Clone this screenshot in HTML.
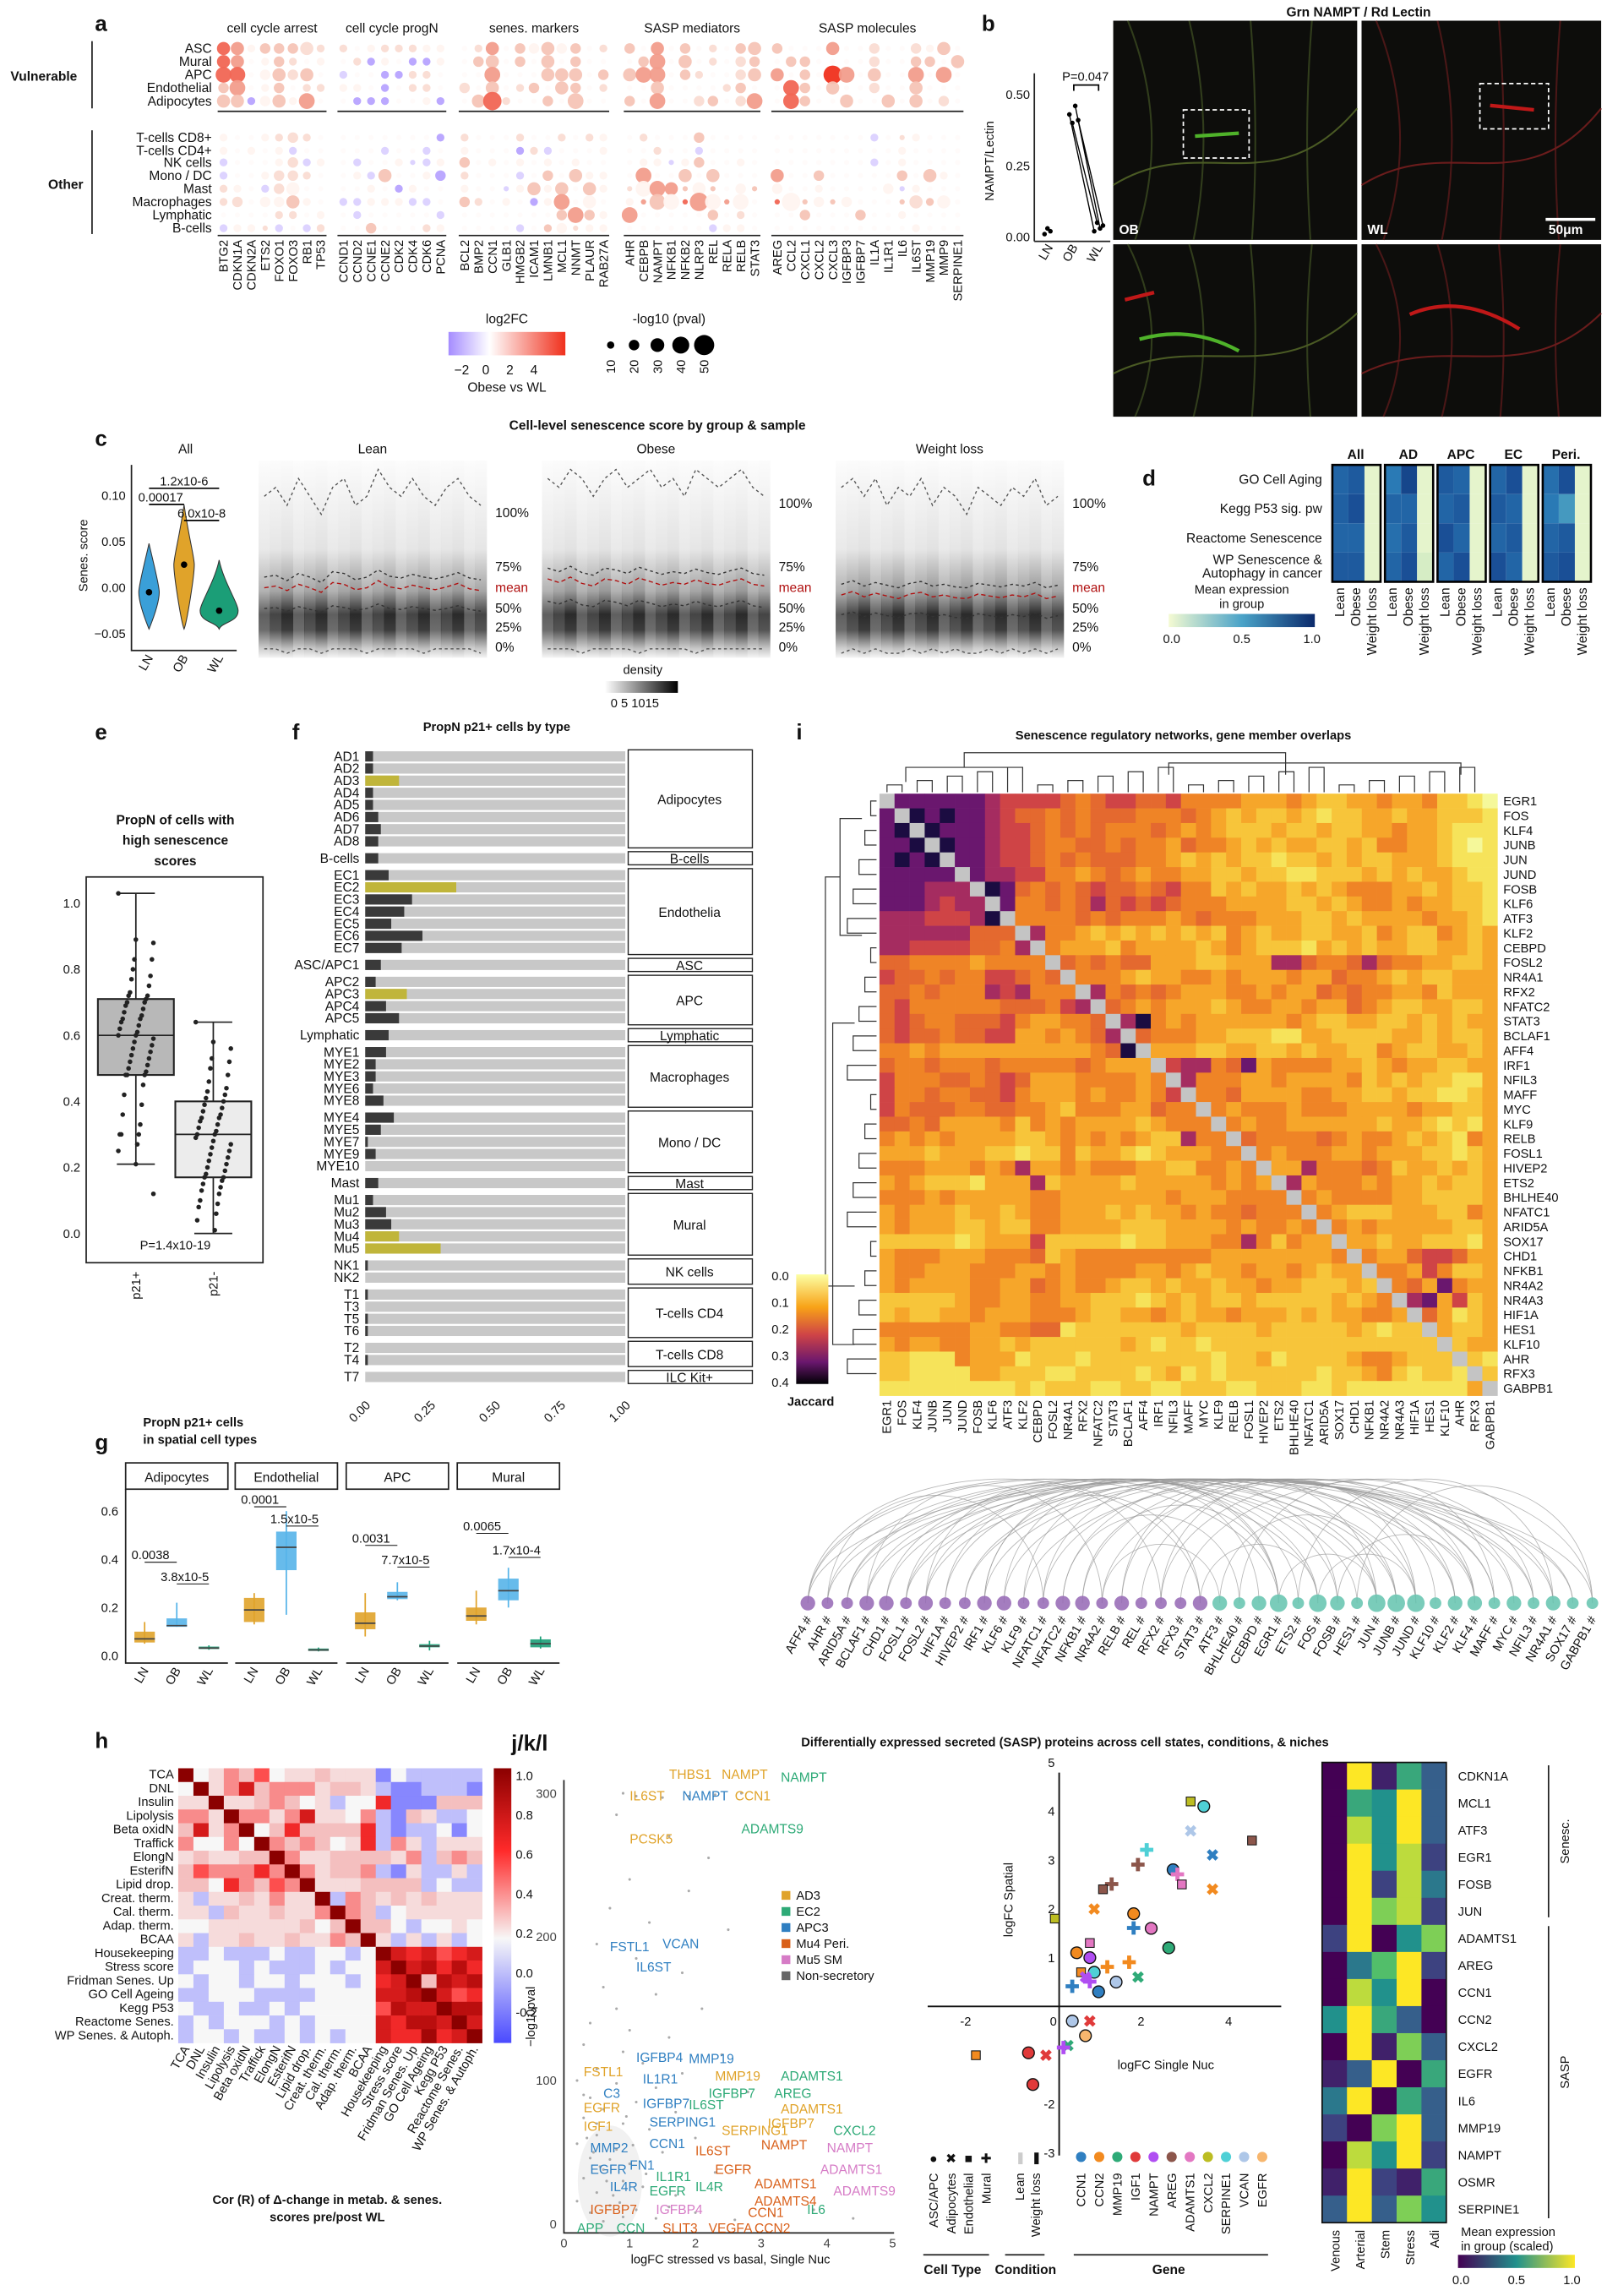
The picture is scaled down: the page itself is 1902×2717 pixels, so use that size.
<!DOCTYPE html>
<html><head><meta charset="utf-8"><style>
html,body{margin:0;padding:0;background:#fff}
svg{display:block}
text{font-family:"Liberation Sans",sans-serif}
</style></head><body>
<svg id="fig" xmlns="http://www.w3.org/2000/svg" width="1902" height="2717" viewBox="0 0 1100 1571">
<defs>
<linearGradient id="lfc" x1="0" x2="1" y1="0" y2="0"><stop offset="0" stop-color="#a58cff"/><stop offset="0.35" stop-color="#ffffff"/><stop offset="1" stop-color="#f0301c"/></linearGradient>
<linearGradient id="dens" x1="0" x2="0" y1="0" y2="1"><stop offset="0" stop-color="#fbfbfb"/><stop offset="0.45" stop-color="#e2e2e2"/><stop offset="0.66" stop-color="#9a9a9a"/><stop offset="0.78" stop-color="#2a2a2a"/><stop offset="0.86" stop-color="#3c3c3c"/><stop offset="0.95" stop-color="#bbbbbb"/><stop offset="1" stop-color="#f2f2f2"/></linearGradient>
<linearGradient id="dleg" x1="0" x2="1"><stop offset="0" stop-color="#fff"/><stop offset="1" stop-color="#000"/></linearGradient>
<linearGradient id="dblue" x1="0" x2="1"><stop offset="0" stop-color="#f4fad2"/><stop offset="0.5" stop-color="#4aa3c8"/><stop offset="1" stop-color="#0b2a6b"/></linearGradient>
<linearGradient id="inf" x1="0" x2="0" y1="0" y2="1"><stop offset="0" stop-color="#fcffa4"/><stop offset="0.3" stop-color="#f8a217"/><stop offset="0.55" stop-color="#cf4446"/><stop offset="0.8" stop-color="#6a176e"/><stop offset="1" stop-color="#000004"/></linearGradient>
<linearGradient id="rb" x1="0" x2="0" y1="0" y2="1"><stop offset="0" stop-color="#8b0000"/><stop offset="0.3" stop-color="#ff2a2a"/><stop offset="0.62" stop-color="#f7f7f7"/><stop offset="1" stop-color="#4a4aff"/></linearGradient>
<linearGradient id="vir" x1="0" x2="1"><stop offset="0" stop-color="#440154"/><stop offset="0.5" stop-color="#21918c"/><stop offset="1" stop-color="#fde725"/></linearGradient>
</defs>
</svg>
<script>
/* ===== DATA ===== */
const aGroups=["cell cycle arrest","cell cycle progN","senes. markers","SASP mediators","SASP molecules"];
const aGenes=[["BTG2","CDKN1A","CDKN2A","ETS2","FOXO1","FOXO3","RB1","TP53"],["CCND1","CCND2","CCNE1","CCNE2","CDK2","CDK4","CDK6","PCNA"],["BCL2","BMP2","CCN1","GLB1","HMGB2","ICAM1","LMNB1","MCL1","NNMT","PLAUR","RAB27A"],["AHR","CEBPB","NAMPT","NFKB1","NFKB2","NLRP3","REL","RELA","RELB","STAT3"],["AREG","CCL2","CXCL1","CXCL2","CXCL3","IGFBP3","IGFBP7","IL1A","IL1R1","IL6","IL6ST","MMP19","MMP9","SERPINE1"]];
const aVulnRows=["ASC","Mural","APC","Endothelial","Adipocytes"];
const aOtherRows=["T-cells CD8+","T-cells CD4+","NK cells","Mono / DC","Mast","Macrophages","Lymphatic","B-cells"];
const aFC=[
"43022211|10011100|01302020201|20302010222|00030010010203",
"43002100|01n00nn0|02202020200|02302010120|22000010022020",
"44002120|m00nn110|00300022202|23302100123|02053020030303",
"23002011|000n0110|10201202201|00200001200|42020010020000",
"22n02030|0nnn000n|02410020200|20300120130|42002002020101",
"00001110|0000000n|1000100101|0010002000|00000000m0100",
"00000m00|000m00m0|0000n1m000|000100m000|00000000000000",
"m00001m0|0m000mm0|2000000000|0000m02000|00000000m00000",
"m0001110|00m2000n|1000m02020|00300202000|30020000020200",
"100m1000|0000n000|000m0202020|10332020020|00000000m00000",
"11000200|mm000mm0|21000n0300|00320430300|40202000021200",
"00001100|0m00000m|0000000232|0300000201|00020002000000",
"m001m0m1|00200010|0000m0201|00000000m0|00000000000000"];
const aSZ=[
"33122231|10111111|01302232201|20302010232|00030020021303",
"33012101|01110111|02302030200|02403010220|22000020022030",
"44023230|10011110|00400033302|34402100233|02054030040404",
"24012011|11010110|20301203201|00300001200|42030020030000",
"33123140|01110011|03510020400|20400220240|42003003030202",
"10011210|00000001|1000100101|1010002000|00000000100100",
"10101100|00010010|1000111000|1001001000|00000000001000",
"10001211|01001011|2010101010|0011012001|00000000101000",
"10012210|01130012|1000102031|10400303000|30020000020310",
"11012300|00101100|1000131303|10443030020|20010000201000",
"12022310|11111110|21010114030|10440540400|50202000031300",
"00001101|01000001|0000000242|1400000201|00020002001000",
"11101011|00200011|0000101201|10000001110|00000000001000"];
const bGroups=["LN","OB","WL"];
const bLN=[0.01,0.03,0.02];
const bOB=[0.43,0.40,0.46,0.41];
const bWL=[0.02,0.05,0.03,0.04];
const cViolin=[["LN",-0.005,0.048,"#3a9fd8"],["OB",0.025,0.09,"#e0a32a"],["WL",-0.025,0.03,"#1b9e77"]];
const cPanels=["Lean","Obese","Weight loss"];
const cP100=[[0.12,0.13,0.11,0.14,0.12,0.10,0.13,0.14,0.11,0.12,0.15,0.13,0.12,0.14,0.12,0.11,0.13,0.14,0.12,0.11],
[0.14,0.13,0.15,0.14,0.12,0.14,0.15,0.13,0.14,0.15,0.13,0.14,0.12,0.15,0.14,0.13,0.14,0.15,0.13,0.12],
[0.13,0.14,0.12,0.14,0.11,0.13,0.12,0.14,0.11,0.13,0.12,0.10,0.13,0.12,0.11,0.13,0.12,0.14,0.11,0.12]];
const cP75=[[0.030,0.032,0.026,0.034,0.030,0.024,0.036,0.034,0.027,0.030,0.038,0.031,0.029,0.033,0.030,0.028,0.031,0.035,0.029,0.027],
[0.040,0.036,0.042,0.035,0.032,0.040,0.038,0.034,0.041,0.037,0.033,0.036,0.034,0.039,0.035,0.033,0.037,0.040,0.034,0.032],
[0.022,0.026,0.020,0.024,0.021,0.018,0.023,0.025,0.020,0.022,0.019,0.018,0.023,0.021,0.019,0.022,0.020,0.024,0.018,0.021]];
const cMean=[[0.018,0.020,0.015,0.022,0.018,0.013,0.024,0.022,0.016,0.018,0.026,0.019,0.017,0.021,0.018,0.016,0.019,0.023,0.017,0.015],
[0.028,0.024,0.030,0.023,0.020,0.028,0.026,0.022,0.029,0.025,0.021,0.024,0.022,0.027,0.023,0.021,0.025,0.028,0.022,0.020],
[0.010,0.014,0.008,0.012,0.009,0.006,0.011,0.013,0.008,0.010,0.007,0.006,0.011,0.009,0.007,0.010,0.008,0.012,0.006,0.009]];
const cP25=[[-0.005,-0.004,-0.008,-0.003,-0.006,-0.009,-0.002,-0.004,-0.007,-0.005,0.000,-0.005,-0.006,-0.003,-0.005,-0.007,-0.005,-0.002,-0.006,-0.008],
[0.003,0.000,0.005,-0.001,-0.003,0.004,0.002,-0.002,0.004,0.001,-0.003,0.000,-0.002,0.003,-0.001,-0.003,0.001,0.004,-0.002,-0.004],
[-0.012,-0.009,-0.014,-0.010,-0.013,-0.015,-0.011,-0.010,-0.014,-0.012,-0.015,-0.016,-0.011,-0.013,-0.015,-0.012,-0.014,-0.010,-0.016,-0.013]];
const cP0=[[-0.05,-0.05,-0.055,-0.05,-0.05,-0.055,-0.05,-0.05,-0.05,-0.055,-0.05,-0.05,-0.05,-0.05,-0.055,-0.05,-0.05,-0.05,-0.05,-0.055],
[-0.05,-0.05,-0.05,-0.055,-0.05,-0.05,-0.05,-0.05,-0.055,-0.05,-0.05,-0.05,-0.05,-0.055,-0.05,-0.05,-0.05,-0.05,-0.05,-0.05],
[-0.055,-0.05,-0.055,-0.05,-0.055,-0.055,-0.05,-0.055,-0.05,-0.055,-0.05,-0.055,-0.055,-0.05,-0.055,-0.05,-0.055,-0.05,-0.055,-0.05]];
const dRows=["GO Cell Aging","Kegg P53 sig. pw","Reactome Senescence","WP Senescence &\nAutophagy in cancer"];
const dGroups=["All","AD","APC","EC","Peri."];
const dConds=["Lean","Obese","Weight loss"];
const dVals=[[0.7,0.75,0.05],[0.72,0.8,0.05],[0.7,0.7,0.05],[0.75,0.75,0.05],
 [0.6,0.85,0.05],[0.7,0.7,0.05],[0.65,0.75,0.05],[0.7,0.8,0.1],
 [0.75,0.7,0.05],[0.7,0.75,0.05],[0.8,0.7,0.05],[0.7,0.8,0.05],
 [0.7,0.8,0.05],[0.75,0.7,0.05],[0.7,0.75,0.05],[0.8,0.7,0.05],
 [0.65,0.8,0.05],[0.6,0.5,0.05],[0.7,0.75,0.05],[0.75,0.8,0.05]];
const eGroups=["p21+","p21-"];
const eStats=[[0.21,0.48,0.60,0.71,1.03],[0.00,0.17,0.30,0.40,0.64]];
const ePos=[1.03,0.89,0.88,0.83,0.83,0.80,0.78,0.77,0.75,0.73,0.72,0.72,0.71,0.70,0.70,0.69,0.68,0.67,0.66,0.65,0.65,0.64,0.63,0.62,0.61,0.60,0.60,0.59,0.58,0.57,0.56,0.55,0.54,0.53,0.52,0.51,0.50,0.49,0.48,0.48,0.48,0.45,0.42,0.39,0.36,0.33,0.30,0.30,0.30,0.27,0.25,0.21,0.12];
const eNeg=[0.64,0.58,0.56,0.53,0.52,0.50,0.48,0.46,0.44,0.43,0.42,0.41,0.40,0.39,0.38,0.37,0.36,0.35,0.35,0.34,0.33,0.32,0.31,0.30,0.30,0.29,0.28,0.27,0.26,0.25,0.24,0.23,0.22,0.21,0.20,0.19,0.18,0.17,0.17,0.16,0.15,0.14,0.13,0.12,0.10,0.09,0.08,0.06,0.04,0.01];
const fRows=["AD1","AD2","AD3","AD4","AD5","AD6","AD7","AD8","B-cells","EC1","EC2","EC3","EC4","EC5","EC6","EC7","ASC/APC1","APC2","APC3","APC4","APC5","Lymphatic","MYE1","MYE2","MYE3","MYE6","MYE8","MYE4","MYE5","MYE7","MYE9","MYE10","Mast","Mu1","Mu2","Mu3","Mu4","Mu5","NK1","NK2","T1","T3","T5","T6","T2","T4","T7"];
const fVal=[0.03,0.03,0.13,0.03,0.03,0.05,0.06,0.05,0.05,0.09,0.35,0.18,0.15,0.10,0.22,0.14,0.06,0.04,0.16,0.08,0.13,0.09,0.08,0.04,0.04,0.03,0.07,0.11,0.06,0.01,0.04,0.00,0.05,0.03,0.08,0.10,0.13,0.29,0.01,0.00,0.01,0.00,0.01,0.01,0.00,0.01,0.00];
const fHi=["AD3","EC2","APC3","Mu4","Mu5"];
const fTypes=[["Adipocytes",0,7],["B-cells",8,8],["Endothelia",9,15],["ASC",16,16],["APC",17,20],["Lymphatic",21,21],["Macrophages",22,26],["Mono / DC",27,31],["Mast",32,32],["Mural",33,37],["NK cells",38,39],["T-cells CD4",40,43],["T-cells CD8",44,45],["ILC Kit+",46,46]];
const fTicks=[0,0.25,0.5,0.75,1.0];
const gFacets=["Adipocytes","Endothelial","APC","Mural"];
const gStats=[[[0.05,0.055,0.07,0.10,0.14],[0.12,0.12,0.125,0.155,0.22],[0.025,0.028,0.032,0.038,0.043]],
[[0.13,0.14,0.19,0.24,0.26],[0.17,0.355,0.45,0.515,0.60],[0.018,0.02,0.024,0.03,0.034]],
[[0.08,0.11,0.135,0.18,0.26],[0.23,0.235,0.245,0.265,0.305],[0.022,0.035,0.04,0.048,0.062]],
[[0.13,0.145,0.165,0.20,0.27],[0.20,0.23,0.27,0.32,0.365],[0.03,0.035,0.05,0.068,0.08]]];
const gP=[["0.0038","3.8x10-5"],["0.0001","1.5x10-5"],["0.0031","7.7x10-5"],["0.0065","1.7x10-4"]];
const gPy=[[0.40,0.31],[0.63,0.55],[0.47,0.38],[0.52,0.42]];
const gTicks=[0,0.2,0.4,0.6];
const hLabels=["TCA","DNL","Insulin","Lipolysis","Beta oxidN","Traffick","ElongN","EsterifN","Lipid drop.","Creat. therm.","Cal. therm.","Adap. therm.","BCAA","Housekeeping","Stress score","Fridman Senes. Up","GO Cell Ageing","Kegg P53","Reactome Senes.","WP Senes. & Autoph."];
const hVals=[
"9013240112111n0mmmmm","0913623331221mnnmmmn","1191123201m005nnn222","3319331361103mn21mm0","2613902522225mnmm0n0",
"3003093232015m31m111","1211229311222213m232","2433353931223mn1mm1m","2205324391112222m0mm","1m11213119m321212111",
"11m2112113932m011111","001111112029220m0010","1m112112113291m1m1m0","mm0mmm0mm00m09656456","m000m0mmm0m0069675755",
"0m00m00m000m05692767","mm000mmmm00006679645","0mm0mm0m0000047669775","m0m000m0m00006577696","m00m0mm0m0m006558569"];
const iLabels=["EGR1","FOS","KLF4","JUNB","JUN","JUND","FOSB","KLF6","ATF3","KLF2","CEBPD","FOSL2","NR4A1","RFX2","NFATC2","STAT3","BCLAF1","AFF4","IRF1","NFIL3","MAFF","MYC","KLF9","RELB","FOSL1","HIVEP2","ETS2","BHLHE40","NFATC1","ARID5A","SOX17","CHD1","NFKB1","NR4A2","NR4A3","HIF1A","HES1","KLF10","AHR","RFX3","GABPB1"];
const iVals=[
"x8888887666654566556444433343223343342210",
"8x989887655454555444543232232122332332221",
"89x98887665454544454343222322322334332111",
"889x9887665445545443544323233223244332101",
"8989x887665454555443232322122323223332111",
"88888x87766443454344332232211222323233211",
"888777x9854545655456442323323234443323221",
"8887677x844545756565444333322323443433221",
"77766679x44445454443454443332232333343321",
"777777555x744323232323243233223324322432",
"7766665547x43332433332343222132323322332",
"55444434444x5454553332233377544575443322",
"655454466545x444323344343334335443232233",
"5545444767444x74545433344343354544334233",
"56444444555467x5434333234433433543223322",
"565445556433445x794343333334322332232323",
"5655455663343457x54443322211332222332322",
"44343333333333459x3332233223233224322332",
"544544454444454333x677458344443323433223",
"6444554565333444434x74443343333423232211",
"64454455643334344346x4453333443322322112",
"645554455443244433544x434443444333343322",
"5545333342434333323444x43443333332332121",
"43434333322343434322744x5444454344323214",
"33323332212242332123334454x4443343332212",
"444333434733434443322443443x744454233232",
"3432221333723333233333434347x44434332322",
"44434333334433333334333444444x4444332222",
"343332332344333232334344544444x222333224",
"3433322322443333222333343443434x43333322",
"22222123336222221223334474243343x2332221",
"3444333444523444444444333333334343x56653",
"34433344433434444334323343343233444x6422",
"343333443354344322323323343322232445x843",
"2222234433443322212323223222223234678x62",
"2322334333444322334323343332323344375x12",
"4444443344551222222232222322222321222x22",
"3433443323222222321221222222222222222x2",
"22111433312221222222221223122223443222x21",
"221111332221122221231212222221223421221x2",
"111111111212221122112221122211211111111x"];
const iArcNodes=["AFF4","AHR","ARID5A","BCLAF1","CHD1","FOSL1","FOSL2","HIF1A","HIVEP2","IRF1","KLF6","KLF9","NFATC1","NFATC2","NFKB1","NR4A2","RELB","REL","RFX2","RFX3","STAT3","ATF3","BHLHE40","CEBPD","EGR1","ETS2","FOS","FOSB","HES1","JUN","JUNB","JUND","KLF10","KLF2","KLF4","MAFF","MYC","NFIL3","NR4A1","SOX17","GABPB1"];
const iNodeSize=[5,4,4,5,5,4,5,4,4,5,5,4,4,5,5,4,5,4,4,4,5,5,4,5,6,4,6,5,4,6,6,6,4,5,5,4,5,4,5,4,4];
const iArcs=[[0,24],[0,26],[1,29],[2,30],[3,31],[4,34],[5,26],[6,29],[7,30],[8,33],[9,35],[10,24],[11,38],[12,27],[13,31],[14,24],[15,36],[16,29],[17,34],[18,37],[19,40],[20,26],[21,30],[0,40],[3,38],[5,39],[6,37],[8,36],[10,35],[12,34],[14,33],[16,32],[18,31],[2,28],[4,27],[7,25],[9,24],[11,23],[13,22],[15,21],[24,29],[26,31],[27,34],[1,12],[3,15],[6,18],[9,20],[22,35],[25,38],[28,40],[0,20],[5,33],[2,37],[1,39]];
const jPts=[[0.9,300],[1.1,298],[1.5,297],[1.9,298],[2.3,299],[2.7,300],[0.8,285],[1.6,270],[2.2,255],[1.0,240],[1.9,232],[0.7,220],[1.3,210],[2.5,205],[0.5,195],[1.1,185],[1.8,175],[0.6,165],[1.4,160],[0.8,150],[2.1,150],[0.4,140],[1.0,135],[1.6,130],[0.3,125],[0.9,120],[2.4,118],[1.2,112],[0.5,108],[1.8,105],[0.2,100],[0.8,98],[1.4,95],[2.8,92],[0.4,88],[1.1,85],[0.6,80],[1.7,78],[0.3,74],[0.9,70],[1.3,66],[0.5,62],[2.0,60],[0.2,56],[0.8,52],[1.5,50],[0.4,46],[1.0,42],[0.6,38],[2.3,36],[0.3,32],[0.9,30],[1.2,26],[0.5,22],[1.7,20],[0.2,16],[0.7,13],[1.1,10],[0.4,8],[0.9,5],[1.4,4],[0.6,2],[2.6,3],[3.2,6],[3.8,10],[4.4,4],[0.35,60],[0.45,50],[0.55,40],[0.65,30],[0.75,20],[0.85,15],[0.5,70],[0.7,45],[1.25,35],[1.05,55],[0.95,75],[1.6,12],[2.0,8],[0.3,90]];
const jLabels=[["THBS1",1.6,310,"#e0a32a"],["NAMPT",2.4,310,"#e0a32a"],["NAMPT",3.3,308,"#2eaa77"],["IL6ST",1.0,295,"#e0a32a"],["NAMPT",1.8,295,"#2f7fc1"],["CCN1",2.6,295,"#e0a32a"],["ADAMTS9",2.7,272,"#2eaa77"],["PCSK5",1.0,265,"#e0a32a"],["FSTL1",0.7,190,"#2f7fc1"],["VCAN",1.5,192,"#2f7fc1"],["IL6ST",1.1,176,"#2f7fc1"],["IGFBP4",1.1,113,"#2f7fc1"],["MMP19",1.9,112,"#2f7fc1"],["FSTL1",0.3,103,"#e0a32a"],["IL1R1",1.2,98,"#2f7fc1"],["MMP19",2.3,100,"#e0a32a"],["ADAMTS1",3.3,100,"#2eaa77"],["C3",0.6,88,"#2f7fc1"],["IGFBP7",2.2,88,"#2eaa77"],["AREG",3.2,88,"#2eaa77"],["EGFR",0.3,78,"#e0a32a"],["IGFBP7",1.2,81,"#2f7fc1"],["IL6ST",1.9,80,"#2eaa77"],["ADAMTS1",3.3,77,"#e0a32a"],["IGF1",0.3,65,"#e0a32a"],["SERPING1",1.3,68,"#2f7fc1"],["SERPING1",2.4,62,"#e0a32a"],["IGFBP7",3.1,67,"#e0a32a"],["CXCL2",4.1,62,"#2eaa77"],["MMP2",0.4,50,"#2f7fc1"],["CCN1",1.3,53,"#2f7fc1"],["IL6ST",2.0,48,"#d9601a"],["NAMPT",3.0,52,"#d9601a"],["NAMPT",4.0,50,"#d67cc6"],["EGFR",0.4,35,"#2f7fc1"],["FN1",1.0,38,"#2f7fc1"],["EGFR",2.3,35,"#d9601a"],["ADAMTS1",3.9,35,"#d67cc6"],["IL4R",0.7,23,"#2f7fc1"],["IL1R1",1.4,30,"#2eaa77"],["EGFR",1.3,20,"#2eaa77"],["IL4R",2.0,23,"#2eaa77"],["ADAMTS1",2.9,25,"#d9601a"],["ADAMTS9",4.1,20,"#d67cc6"],["ADAMTS4",2.9,13,"#d9601a"],["IL6",3.7,7,"#2eaa77"],["IGFBP7",0.4,7,"#d9601a"],["IGFBP4",1.4,7,"#d67cc6"],["CCN1",2.8,5,"#d9601a"],["APP",0.2,-6,"#2eaa77"],["CCN",0.8,-6,"#2eaa77"],["SLIT3",1.5,-6,"#d9601a"],["VEGFA",2.2,-6,"#d9601a"],["CCN2",2.9,-6,"#d9601a"]];
const jLegend=[["AD3","#e0a32a"],["EC2","#2eaa77"],["APC3","#2f7fc1"],["Mu4 Peri.","#d9601a"],["Mu5 SM","#d67cc6"],["Non-secretory","#666"]];
const kGenes=["CCN1","CCN2","MMP19","IGF1","NAMPT","AREG","ADAMTS1","CXCL2","SERPINE1","VCAN","EGFR"];
const kCols=["#2f7fc1","#f28a1f","#2eaa77","#e03a3a","#b04ef2","#8c564b","#e377c2","#bcbd22","#4fd0d6","#aec7e8","#f7b66e"];
const kPts=[[3.3,4.1,0,8],[3.0,4.2,2,7],[3.0,3.6,1,9],[4.4,3.4,2,5],[2.0,3.2,3,8],[3.5,3.1,1,0],[1.8,2.9,3,5],[2.6,2.8,0,0],[2.7,2.7,3,6],[2.8,2.5,2,6],[1.2,2.5,3,5],[1.0,2.4,2,5],[3.5,2.4,1,1],[0.8,2.0,1,1],[1.7,1.9,0,1],[-0.1,1.8,2,7],[1.7,1.6,3,0],[2.1,1.6,0,6],[2.5,1.2,0,2],[0.4,1.1,0,1],[0.7,1.3,2,6],[0.7,1.0,0,4],[1.6,0.9,3,1],[1.1,0.8,3,1],[0.5,0.7,2,1],[0.8,0.7,0,8],[0.6,0.6,1,4],[1.3,0.5,0,9],[1.8,0.6,1,2],[0.7,0.5,3,4],[0.3,0.4,3,0],[0.9,0.3,0,0],[0.3,-0.3,0,9],[0.7,-0.3,1,3],[0.6,-0.6,0,10],[0.2,-0.8,1,2],[0.1,-0.85,3,4],[-0.7,-0.95,0,3],[-0.3,-1.0,1,3],[-1.9,-1.0,2,1],[-0.6,-1.6,0,3]];
const lRows=["CDKN1A","MCL1","ATF3","EGR1","FOSB","JUN","ADAMTS1","AREG","CCN1","CCN2","CXCL2","EGFR","IL6","MMP19","NAMPT","OSMR","SERPINE1"];
const lCols=["Venous","Arterial","Stem","Stress","Adi"];
const lVals=[[0.0,1.0,0.1,0.6,0.3],[0.0,0.6,0.5,1.0,0.3],[0.0,0.9,0.5,1.0,0.3],[0.0,1.0,0.5,0.9,0.2],[0.0,1.0,0.2,0.9,0.4],[0.0,1.0,0.8,0.9,0.2],[0.2,1.0,0.0,0.5,0.8],[0.0,0.4,0.7,1.0,0.2],[0.0,0.9,0.5,1.0,0.0],[0.5,1.0,0.6,0.3,0.0],[0.0,1.0,0.1,0.8,0.3],[0.1,0.3,1.0,0.0,0.6],[0.4,1.0,0.0,0.6,0.3],[0.2,0.0,0.8,1.0,0.3],[0.0,0.9,0.5,1.0,0.2],[0.1,1.0,0.2,0.1,0.6],[0.3,1.0,0.3,0.8,0.5]];

/* ===== helpers ===== */
const NS="http://www.w3.org/2000/svg";
const svg=document.getElementById("fig");
function mk(tag,attrs,parent){const e=document.createElementNS(NS,tag);for(const k in attrs)e.setAttribute(k,attrs[k]);(parent||svg).appendChild(e);return e;}
function tx(x,y,s,size,extra){const e=mk("text",Object.assign({x:x,y:y,"font-size":size||7,fill:"#111"},extra||{}));e.textContent=s;return e;}
function lerp(a,b,t){return a+(b-a)*t;}
function hex(c){return [parseInt(c.substr(1,2),16),parseInt(c.substr(3,2),16),parseInt(c.substr(5,2),16)];}
function ramp(stops,t){t=Math.max(0,Math.min(1,t));const n=stops.length-1;const i=Math.min(n-1,Math.floor(t*n));const f=t*n-i;const a=hex(stops[i]),b=hex(stops[i+1]);return "rgb("+[0,1,2].map(k=>Math.round(lerp(a[k],b[k],f))).join(",")+")";}
const INF=["#f5f89a","#f6e35a","#f7c53a","#f6a62a","#ef8426","#e4692f","#cf4446","#a52c60","#6a176e","#1b0c41","#000004"];
const VIR=["#440154","#3b528b","#21918c","#5ec962","#fde725"];
const BLU=["#f4fad2","#b8e0b8","#5fb8c8","#2a7ab5","#1a4f96","#0b2a6b"];
function letter(x,y,s){const t=tx(x,y,s,15,{"font-weight":"bold"});}

/* ===== Panel a ===== */
letter(65,21,"a");
const aX0=[153,235,318,431,532], aStep=9.5;
const aVy=[33,42,51,60,69], aOy=[94,103,111,120,129,138,147,156];
const aAllRows=aVulnRows.concat(aOtherRows), aAllY=aVy.concat(aOy);
aGroups.forEach((g,gi)=>{
  const h=tx(aX0[gi]+(aGenes[gi].length-1)*aStep/2,22,g,9,{"text-anchor":"middle"});
  
  
  const x1=aX0[gi]-4,x2=aX0[gi]+(aGenes[gi].length-1)*aStep+4;
  [76,161].forEach(yy=>{const ax=mk("line",{x1:x1,x2:x2,y1:yy,y2:yy,stroke:"#222","stroke-width":1});
    
    });
  aGenes[gi].forEach((gn,k)=>{const t=tx(0,0,gn,8.5,{"text-anchor":"end",transform:"translate("+(aX0[gi]+k*aStep+3)+",164) rotate(-90)"});
    
    });
});
aAllRows.forEach((r,ri)=>{
  const t=tx(145,aAllY[ri]+3,r,9,{"text-anchor":"end"});
  
  
  const fc=aFC[ri].replace(/\|/g,""), sz=aSZ[ri].replace(/\|/g,"");
  let col=0;
  aGroups.forEach((g,gi)=>{aGenes[gi].forEach((gn,k)=>{
    const ch=fc[col]||"0", s=parseInt(sz[col]||"0");col++;
    let v=ch==="n"?-2:ch==="m"?-1:parseInt(ch);
    const color=v<0?ramp(["#ffffff","#a58cff"],-v/2.5):ramp(["#fff4f0","#f2b8a8","#f0301c"],v/5);
    const c=mk("circle",{cx:aX0[gi]+k*aStep,cy:aAllY[ri],r:1.8+s*0.9,fill:color,opacity:v===0&&s===0?0.35:0.95});
    
    
  });});
});
{const t=tx(30,55,"Vulnerable",9,{"font-weight":"bold","text-anchor":"middle"});
const t2=tx(45,129,"Other",9,{"font-weight":"bold","text-anchor":"middle"});
const l1=mk("line",{x1:63,x2:63,y1:28,y2:74,stroke:"#222"});
const l2=mk("line",{x1:63,x2:63,y1:89,y2:160,stroke:"#222"});
const cb=mk("rect",{x:307,y:227,width:80,height:16,fill:"url(#lfc)"});
const ct=tx(347,221,"log2FC",9,{"text-anchor":"middle"});
["−2","0","2","4"].forEach((s,i)=>{const t=tx(316+i*16.5,256,s,9,{"text-anchor":"middle"});});
const ov=tx(347,268,"Obese vs WL",9,{"text-anchor":"middle"});
const pt=tx(458,221,"-log10 (pval)",9,{"text-anchor":"middle"});
["10","20","30","40","50"].forEach((s,i)=>{const c=mk("circle",{cx:418+i*16,cy:236,r:2.5+i*1.1,fill:"#000"});
const t=tx(0,0,s,8.5,{"text-anchor":"end",transform:"translate("+(421+i*16)+",246) rotate(-90)"});});}

/* ===== Panel b ===== */
letter(672,21,"b");
{const t=tx(930,11,"Grn NAMPT  /  Rd Lectin",9,{"font-weight":"bold","text-anchor":"middle"});
const imgs=[[762,14,167,150,"OB"],[932,14,164,150,"WL"],[762,167,167,118,""],[932,167,164,118,""]];
imgs.forEach((m,i)=>{const r=mk("rect",{x:m[0],y:m[1],width:m[2],height:m[3],fill:"#0d0d0b"});
 for(let k=0;k<4;k++){const p=mk("path",{d:"M"+(m[0]+10+k*42)+","+m[1]+" Q"+(m[0]+40+k*30)+","+(m[1]+m[3]*0.5)+" "+(m[0]+15+k*40)+","+(m[1]+m[3]),stroke:i%2?"#5a1a1a":"#3b4a20","stroke-width":1.2,fill:"none",opacity:0.8});}
 const p2=mk("path",{d:"M"+m[0]+","+(m[1]+m[3]*0.75)+" C"+(m[0]+60)+","+(m[1]+m[3]*0.5)+" "+(m[0]+110)+","+(m[1]+m[3]*0.85)+" "+(m[0]+m[2])+","+(m[1]+m[3]*0.4),stroke:i%2?"#6a1c1c":"#4a5a24","stroke-width":1.2,fill:"none"});
 if(m[4]){const t=tx(m[0]+4,m[1]+m[3]-4,m[4],9,{fill:"#fff","font-weight":"bold"});}});
const s1=mk("rect",{x:810,y:75,width:45,height:33,fill:"none",stroke:"#fff","stroke-dasharray":"3,2"});
const s2=mk("rect",{x:1013,y:57,width:47,height:31,fill:"none",stroke:"#fff","stroke-dasharray":"3,2"});
const gr=mk("path",{d:"M818,93 L848,91 M780,232 Q815,222 848,240",stroke:"#4fb22a","stroke-width":2.5,fill:"none"});
const rd=mk("path",{d:"M1020,72 L1050,75 M965,215 Q1000,200 1040,225 M770,205 L790,200",stroke:"#c01818","stroke-width":2.5,fill:"none"});
const sb=tx(1060,160,"50μm",9,{fill:"#fff","font-weight":"bold"});
const sbl=mk("line",{x1:1058,x2:1092,y1:150,y2:150,stroke:"#fff","stroke-width":2});
const by=v=>162-v*195, bx=[718,735,752];
const ax=mk("path",{d:"M708,50 L708,165 M708,165 L760,165",stroke:"#222",fill:"none"});
[0,0.25,0.5].forEach(v=>{const t=tx(705,by(v)+3,v.toFixed(2),8.5,{"text-anchor":"end"});});
const yt=tx(0,0,"NAMPT/Lectin",8.5,{"text-anchor":"middle",transform:"translate(680,110) rotate(-90)"});
bGroups.forEach((g,i)=>{const t=tx(0,0,g,8.5,{"text-anchor":"end",transform:"translate("+(bx[i]+3)+",169) rotate(-60)"});});
[bLN,bOB,bWL].forEach((arr,i)=>arr.forEach((v,k)=>{const c=mk("circle",{cx:bx[i]+(k-1.5)*2,cy:by(v),r:1.6,fill:"#000"});}));
bOB.forEach((v,k)=>{const l=mk("line",{x1:bx[1]+(k-1.5)*2,y1:by(v),x2:bx[2]+(k-1.5)*2,y2:by(bWL[k]),stroke:"#000","stroke-width":0.8});});
const br=mk("path",{d:"M735,62 L735,58 L752,58 L752,62",stroke:"#000",fill:"none"});
const pv=tx(743,55,"P=0.047",8.5,{"text-anchor":"middle"});}

/* ===== Panel c ===== */
letter(65,305,"c");
{const t=tx(450,294,"Cell-level senescence score by group & sample",9,{"font-weight":"bold","text-anchor":"middle"});
const t2=tx(127,310,"All",9,{"text-anchor":"middle"});
const vy=v=>402-v*630, vx=[102,126,150];
const ax=mk("path",{d:"M90,318 L90,445 L162,445",stroke:"#222",fill:"none"});
[0.10,0.05,0.00,-0.05].forEach(v=>{const tt=tx(86,vy(v)+3,v.toFixed(2).replace("-","−"),8.5,{"text-anchor":"end"});});
const yt=tx(0,0,"Senes. score",8.5,{"text-anchor":"middle",transform:"translate(60,380) rotate(-90)"});
cViolin.forEach((v,i)=>{const top=vy(v[2]),mid=vy(v[1]),bot=vy(-0.045);const w=i===2?13:7;
 const p=mk("path",{d:"M"+vx[i]+","+top+" C"+(vx[i]+3)+","+(mid-20)+" "+(vx[i]+w)+","+(mid-5)+" "+(vx[i]+w)+","+mid+" C"+(vx[i]+w)+","+(mid+8)+" "+(vx[i]+2)+","+(bot-5)+" "+vx[i]+","+bot+" C"+(vx[i]-2)+","+(bot-5)+" "+(vx[i]-w)+","+(mid+8)+" "+(vx[i]-w)+","+mid+" C"+(vx[i]-w)+","+(mid-5)+" "+(vx[i]-3)+","+(mid-20)+" "+vx[i]+","+top+"Z",fill:v[3],stroke:"#333","stroke-width":0.6});
 
 const d=mk("circle",{cx:vx[i],cy:mid,r:2.2,fill:"#000"});
 const l=tx(0,0,v[0],8.5,{"text-anchor":"end",transform:"translate("+(vx[i]+3)+",450) rotate(-60)"});});
[["1.2x10-6",126,334,102,150],["0.00017",110,345,102,126],["6.0x10-8",138,356,126,150]].forEach(b=>{const bt=tx(b[1],b[2]-2,b[0],8.5,{"text-anchor":"middle"});
 const bl=mk("line",{x1:b[3],x2:b[4],y1:b[2],y2:b[2],stroke:"#000"});});
const px=[177,371,572], pw=156, py0=315, py1=450;
const dy=v=>lerp(py1,py0,(v+0.06)/0.22);
cPanels.forEach((pn,pi)=>{const tt=tx(px[pi]+pw/2,310,pn,9,{"text-anchor":"middle"});
 const n=cP100[pi].length,cw=pw/n;
 for(let k=0;k<n;k++){const r=mk("rect",{x:px[pi]+k*cw,y:py0,width:cw+0.3,height:py1-py0,fill:"url(#dens)",opacity:0.75+0.25*((k*7)%3)/2});}
 const series=[[cP100[pi],"#555","2,2"],[cP75[pi],"#333","2,2"],[cMean[pi],"#b01010","3,2"],[cP25[pi],"#333","2,2"],[cP0[pi],"#555","2,2"]];
 series.forEach(s=>{const d=s[0].map((v,k)=>(k?"L":"M")+(px[pi]+k*cw+cw/2).toFixed(1)+","+dy(v).toFixed(1)).join(" ");
  const p=mk("path",{d:d,stroke:s[1],"stroke-width":0.8,"stroke-dasharray":s[2],fill:"none"});});
 const lx=px[pi]+pw+6;
 [["100%",dy(cP100[pi][n-1])+8,"#111"],["75%",dy(0.03)-4,"#111"],["mean",dy(0.02)+4,"#b01010"],["50%",dy(0.01)+12,"#111"],["25%",dy(-0.005)+16,"#111"],["0%",dy(-0.05)+2,"#111"]].forEach(q=>{const qt=tx(lx,q[1],q[0],9,{fill:q[2]});});});
const dl=mk("rect",{x:414,y:466,width:50,height:8,fill:"url(#dleg)"});
const dt=tx(440,461,"density",8.5,{"text-anchor":"middle"});
const dtk=tx(418,484,"0  5 1015",8.5);}

/* ===== Panel d ===== */
letter(782,332,"d");
{const gx=[912,948,984,1020,1056], cw=11, ry=[318,338,358,378], rh=20;
dRows.forEach((r,i)=>{const lines=r.split("\n");lines.forEach((ln,j)=>{const t=tx(905,ry[i]+(lines.length>1?8+j*9:13),ln,9,{"text-anchor":"end"});});});
dGroups.forEach((g,gi)=>{const t=tx(gx[gi]+16,314,g,9,{"font-weight":"bold","text-anchor":"middle"});
 dRows.forEach((r,ri)=>{dConds.forEach((c,ci)=>{const v=dVals[gi*4+ri][ci];const cell=mk("rect",{x:gx[gi]+ci*cw,y:ry[ri],width:cw,height:rh,fill:ramp(BLU,v)});});});
 const b=mk("rect",{x:gx[gi],y:318,width:33,height:80,fill:"none",stroke:"#000","stroke-width":1.5});
 dConds.forEach((c,ci)=>{const t=tx(0,0,c,9,{"text-anchor":"end",transform:"translate("+(gx[gi]+ci*cw+8)+",402) rotate(-90)"});});});
const cb=mk("rect",{x:800,y:420,width:100,height:9,fill:"url(#dblue)"});
const ct=tx(850,406,"Mean expression",8.5,{"text-anchor":"middle"});
const ct2=tx(850,416,"in group",8.5,{"text-anchor":"middle"});
["0.0","0.5","1.0"].forEach((s,i)=>{const t=tx(802+i*48,440,s,8.5,{"text-anchor":"middle"});});}

/* ===== Panel e ===== */
letter(65,506,"e");
{["PropN of cells with","high senescence","scores"].forEach((s,i)=>{const t=tx(120,564+i*14,s,9,{"font-weight":"bold","text-anchor":"middle"});});
const fr=mk("rect",{x:59,y:600,width:121,height:264,fill:"none",stroke:"#222"});
const ey=v=>844-v*226, ex=[93,146];
[0,0.2,0.4,0.6,0.8,1.0].forEach(v=>{const t=tx(55,ey(v)+3,v.toFixed(1),8.5,{"text-anchor":"end"});});
eGroups.forEach((g,i)=>{const s=eStats[i];
 const w=mk("line",{x1:ex[i],x2:ex[i],y1:ey(s[0]),y2:ey(s[4]),stroke:"#222"});
 [s[0],s[4]].forEach(v=>{const cap=mk("line",{x1:ex[i]-13,x2:ex[i]+13,y1:ey(v),y2:ey(v),stroke:"#222"});});
 const b=mk("rect",{x:ex[i]-26,y:ey(s[3]),width:52,height:ey(s[1])-ey(s[3]),fill:i?"#ececec":"#b8b8b8",stroke:"#222","stroke-width":1.2});
 const m=mk("line",{x1:ex[i]-26,x2:ex[i]+26,y1:ey(s[2]),y2:ey(s[2]),stroke:"#222","stroke-width":1});
 (i?eNeg:ePos).forEach((v,k)=>{const c=mk("circle",{cx:ex[i]+((k*37)%25-12)*1.0,cy:ey(v),r:1.6,fill:"#222"});});
 const l=tx(0,0,g,8.5,{"text-anchor":"end",transform:"translate("+(ex[i]+3)+",870) rotate(-90)"});});
const pv=tx(120,855,"P=1.4x10-19",8.5,{"text-anchor":"middle"});}

/* ===== Panel f ===== */
letter(200,506,"f");
{const t=tx(340,500,"PropN p21+ cells by type",8.5,{"font-weight":"bold","text-anchor":"middle"});
const fx=v=>250+v*178, step=8.3, gap=3.3;
const fy=[];let y=514;
fRows.forEach((r,i)=>{if(i>0&&fTypes.some(ft=>ft[1]===i))y+=gap;fy.push(y);y+=step;});
fRows.forEach((r,i)=>{const bg=mk("rect",{x:fx(0),y:fy[i],width:178,height:7,fill:"#c8c8c8"});
 const b=mk("rect",{x:fx(0),y:fy[i],width:fx(fVal[i])-fx(0),height:7,fill:fHi.includes(r)?"#c0b53a":"#3a3a3a"});
 const l=tx(246,fy[i]+6.5,r,9,{"text-anchor":"end"});});
fTypes.forEach(ft=>{const y0=fy[ft[1]]-1,y1=fy[ft[2]]+8;const b=mk("rect",{x:430,y:y0,width:85,height:y1-y0,fill:"#fff",stroke:"#222","stroke-width":0.8});
 const t=tx(472,(y0+y1)/2+3.5,ft[0],9,{"text-anchor":"middle"});});
fTicks.forEach(v=>{const t=tx(0,0,v.toFixed(2),8.5,{"text-anchor":"end",transform:"translate("+(fx(v)+4)+",962) rotate(-45)"});});}

/* ===== Panel g ===== */
letter(65,992,"g");
{["PropN p21+ cells","in spatial cell types"].forEach((s,i)=>{const t=tx(98,976+i*12,s,8.5,{"font-weight":"bold"});});
const gx0=[86,161,237,313], gw=70, gy=v=>1133-v*165, cols=["#e0a32a","#56b4e9","#1b9e77"], cond=["LN","OB","WL"];
gTicks.forEach(v=>{const t=tx(81,gy(v)+3,v.toFixed(1),8.5,{"text-anchor":"end"});});
gFacets.forEach((f,fi)=>{const hb=mk("rect",{x:gx0[fi],y:1001,width:gw,height:18,fill:"#fff",stroke:"#222"});
 const ht=tx(gx0[fi]+gw/2,1014,f,9,{"text-anchor":"middle"});
 const ax=mk("path",{d:(fi===0?"M"+gx0[fi]+",1019 L"+gx0[fi]+",1138 ":"M"+gx0[fi]+",1138 ")+"L"+(gx0[fi]+gw)+",1138",stroke:"#222",fill:"none"});
 cond.forEach((c,ci)=>{const s=gStats[fi][ci],cx=gx0[fi]+13+ci*22;
  const w=mk("line",{x1:cx,x2:cx,y1:gy(s[0]),y2:gy(s[4]),stroke:cols[ci]});
  const b=mk("rect",{x:cx-7,y:gy(s[3]),width:14,height:Math.max(1.5,gy(s[1])-gy(s[3])),fill:cols[ci],opacity:0.9});
  const m=mk("line",{x1:cx-7,x2:cx+7,y1:gy(s[2]),y2:gy(s[2]),stroke:"#444"});
  const l=tx(0,0,c,8.5,{"text-anchor":"end",transform:"translate("+(cx+3)+",1143) rotate(-60)"});});
 const p1=tx(gx0[fi]+4,gy(gPy[fi][0]),gP[fi][0],8.5);
 const u1=mk("line",{x1:gx0[fi]+13,x2:gx0[fi]+35,y1:gy(gPy[fi][0])+2,y2:gy(gPy[fi][0])+2,stroke:"#111","stroke-width":0.6});
 const p2=tx(gx0[fi]+24,gy(gPy[fi][1]),gP[fi][1],8.5);
 const u2=mk("line",{x1:gx0[fi]+35,x2:gx0[fi]+57,y1:gy(gPy[fi][1])+2,y2:gy(gPy[fi][1])+2,stroke:"#111","stroke-width":0.6});});}

/* ===== Panel h ===== */
letter(65,1196,"h");
{const n=hLabels.length, hx0=122, hy0=1210, cs=10.4, rh=9.4;
hLabels.forEach((lb,i)=>{const row=hVals[i];
 for(let j=0;j<n;j++){const ch=row[j]||"0";let v=ch==="m"?-0.25:ch==="n"?-0.5:parseInt(ch)/9;const col=v<0?ramp(["#f7f7f7","#7a7aff"],-v*1.8):ramp(["#f7f7f7","#f4b8b8","#ff3030","#c01010","#8b0000"],v);
  const c=mk("rect",{x:hx0+j*cs,y:hy0+i*rh,width:cs+0.2,height:rh+0.2,fill:col});}
 const t=tx(hx0-3,hy0+i*rh+7,lb,8.5,{"text-anchor":"end"});
 const t2=tx(0,0,lb,8.5,{"text-anchor":"end",transform:"translate("+(hx0+i*cs+8)+",1402) rotate(-60)"});});
const cb=mk("rect",{x:338,y:1210,width:12,height:188,fill:"url(#rb)"});
["1.0","0.8","0.6","0.4","0.2","0.0","-0.2"].forEach((s,i)=>{const t=tx(353,1218+i*27,s,8.5);});
["Cor (R) of Δ-change in metab. & senes.","scores pre/post WL"].forEach((s,i)=>{const t=tx(224,1508+i*12,s,8.5,{"font-weight":"bold","text-anchor":"middle"});});}

/* ===== Panel i ===== */
letter(545,506,"i");
{const t=tx(810,506,"Senescence regulatory networks, gene member overlaps",8.5,{"font-weight":"bold","text-anchor":"middle"});
const n=iLabels.length, ix0=602, iy0=543, cw=423/n, ch=412/n;
iLabels.forEach((lb,i)=>{const row=iVals[i]||"";
 for(let j=0;j<n;j++){let v=parseInt(row[j]);if(isNaN(v))v=3;const col=(i===j)?"#c4c4c4":ramp(INF,v/10);
  const c=mk("rect",{x:ix0+j*cw,y:iy0+i*ch,width:cw+0.2,height:ch+0.2,fill:col});}
 const rl=tx(ix0+423+4,iy0+i*ch+8,lb,8.5);
 const cl=tx(0,0,lb,8.5,{"text-anchor":"end",transform:"translate("+(ix0+i*cw+8)+",958) rotate(-90)"});});
let dtop="",dleft="";for(let k=0;k<20;k++){const a=ix0+(2*k+0.5)*cw,b=ix0+(2*k+1.5)*cw,h=537-(k%5)*3;dtop+="M"+a+",542 L"+a+","+h+" L"+b+","+h+" L"+b+",542 ";const ya=iy0+(2*k+0.5)*ch,yb=iy0+(2*k+1.5)*ch,w=596-(k%5)*4;dleft+="M600,"+ya+" L"+w+","+ya+" L"+w+","+yb+" L600,"+yb+" ";}
dtop+="M620,535 L620,525 L700,525 L700,535 M660,525 L660,515 L880,515 L880,530 M800,530 L800,522 L1000,522 L1000,530";
dleft+="M590,560 L575,560 L575,640 L590,640 M575,600 L565,600 L565,880 L585,880 M585,700 L570,700 L570,920 L585,920";
const dt=mk("path",{d:dtop,stroke:"#333","stroke-width":0.7,fill:"none"});
const dl=mk("path",{d:dleft,stroke:"#333","stroke-width":0.7,fill:"none"});
const cb=mk("rect",{x:545,y:872,width:22,height:75,fill:"url(#inf)"});
["0.0","0.1","0.2","0.3","0.4"].forEach((s,i)=>{const tt=tx(540,876+i*18.2,s,8.5,{"text-anchor":"end"});});
const cbt=tx(555,962,"Jaccard",8.5,{"font-weight":"bold","text-anchor":"middle"});
const ax0=553, ax1=1090, ayy=1097, sp=(ax1-ax0)/(iArcNodes.length-1);
iArcs.forEach(a=>{const x1=ax0+a[0]*sp,x2=ax0+a[1]*sp,r=(x2-x1)/2;const p=mk("path",{d:"M"+x1+","+ayy+" A"+r+","+Math.min(r,85)+" 0 0 1 "+x2+","+ayy,stroke:"#999","stroke-width":0.5,fill:"none",opacity:0.7});});
iArcNodes.forEach((nd,k)=>{const c=mk("circle",{cx:ax0+k*sp,cy:ayy,r:iNodeSize[k],fill:k<21?"#9a6fb8":"#6cc7b2",opacity:0.9});
 const l=tx(0,0,nd+" #",8.5,{"text-anchor":"end",transform:"translate("+(ax0+k*sp+3)+",1108) rotate(-60)"});});}

/* ===== Panel j ===== */
letter(350,1198,"j/k/l");
{const t=tx(729,1195,"Differentially expressed secreted (SASP) proteins across cell states, conditions, & niches",8.5,{"font-weight":"bold","text-anchor":"middle"});
const jx=v=>386+v*45, jy=v=>1522-v*0.983;
const ax=mk("path",{d:"M386,1218 L386,1528 L612,1528",stroke:"#222",fill:"none"});
[0,100,200,300].forEach(v=>{const tt=tx(381,jy(v)+3,String(v),8.5,{"text-anchor":"end",fill:"#444"});});
[0,1,2,3,4,5].forEach(v=>{const tt=tx(jx(v),1538,String(v),8.5,{"text-anchor":"middle",fill:"#444"});});
const xt=tx(500,1549,"logFC stressed vs basal, Single Nuc",8.5,{"text-anchor":"middle"});
const yt=tx(0,0,"−log10pval",8.5,{"text-anchor":"middle",transform:"translate(366,1380) rotate(-90)"});
const cloud=mk("ellipse",{cx:jx(0.7),cy:jy(30),rx:22,ry:38,fill:"#bbb",opacity:0.2});
jPts.forEach(p=>{const c=mk("circle",{cx:jx(p[0]),cy:jy(p[1]),r:0.9,fill:"#aaa"});});
jLabels.forEach(l=>{const tt=tx(jx(l[1]),jy(l[2]),l[0],9,{fill:l[3]});});
jLegend.forEach((l,i)=>{const r=mk("rect",{x:535,y:1294+i*11,width:6,height:6,fill:l[1]});
 const tt=tx(545,1300+i*11,l[0],8.5);});}

/* ===== Panel k ===== */
{const kx=v=>725+v*30, ky=v=>1373-v*33.4;
const ax=mk("path",{d:"M635,1373 L877,1373 M725,1213 L725,1475",stroke:"#111","stroke-width":1.1,fill:"none"});
[-2,0,2,4].forEach(v=>{const tt=tx(kx(v)-4,1386,String(v),8.5,{"text-anchor":"middle"});});
[5,4,3,2,1,-2,-3].forEach(v=>{const tt=tx(722,ky(v)+3,String(v),8.5,{"text-anchor":"end"});});
const xt=tx(798,1416,"logFC Single Nuc",8.5,{"text-anchor":"middle"});
const yt=tx(0,0,"logFC Spatial",8.5,{"text-anchor":"middle",transform:"translate(693,1300) rotate(-90)"});
kPts.forEach(p=>{const x=kx(p[0]),y=ky(p[1]),col=kCols[p[3]];let e;
 if(p[2]===0)e=mk("circle",{cx:x,cy:y,r:4,fill:col,stroke:"#111","stroke-width":0.8});
 else if(p[2]===2)e=mk("rect",{x:x-3,y:y-3,width:6,height:6,fill:col,stroke:"#111","stroke-width":0.6});
 else if(p[2]===1)e=mk("text",{x:x,y:y+4,"font-size":11,"font-weight":"bold","text-anchor":"middle",fill:col});
 else e=mk("text",{x:x,y:y+4,"font-size":12,"font-weight":"bold","text-anchor":"middle",fill:col});
 if(p[2]===1)e.textContent="✖";if(p[2]===3)e.textContent="✚";
 
 });
const sh=["●","✖","■","✚"],shN=["ASC/APC","Adipocytes","Endothelial","Mural"];
sh.forEach((s,i)=>{const tt=tx(639+i*12,1480,s,9,{"text-anchor":"middle"});
 const l=tx(0,0,shN[i],8.5,{"text-anchor":"end",transform:"translate("+(642+i*12)+",1487) rotate(-90)"});});
[["Lean","#ccc"],["Weight loss","#111"]].forEach((c,i)=>{const r=mk("rect",{x:697+i*11,y:1473,width:3,height:8,fill:c[1]});
 const l=tx(0,0,c[0],8.5,{"text-anchor":"end",transform:"translate("+(701+i*11)+",1487) rotate(-90)"});});
kGenes.forEach((g,i)=>{const c=mk("circle",{cx:740+i*12.4,cy:1476,r:3.5,fill:kCols[i]});
 const l=tx(0,0,g,8.5,{"text-anchor":"end",transform:"translate("+(743+i*12.4)+",1487) rotate(-90)"});});
const ul=mk("path",{d:"M632,1543 L677,1543 M688,1543 L715,1543 M735,1543 L868,1543",stroke:"#222"});
[["Cell Type",652],["Condition",702],["Gene",800]].forEach(c=>{const tt=tx(c[1],1556,c[0],9,{"font-weight":"bold","text-anchor":"middle"});});}

/* ===== Panel l ===== */
{const lx0=905, ly0=1206, cw=17, rh=315/lRows.length;
lRows.forEach((r,i)=>{lCols.forEach((c,j)=>{const cell=mk("rect",{x:lx0+j*cw,y:ly0+i*rh,width:cw+0.2,height:rh+0.2,fill:ramp(VIR,lVals[i][j])});});
 const t=tx(998,ly0+i*rh+rh/2+3,r,8.5);});
const fr=mk("rect",{x:lx0,y:ly0,width:cw*5,height:315,fill:"none",stroke:"#111"});
lCols.forEach((c,j)=>{const t=tx(0,0,c,8.5,{"text-anchor":"end",transform:"translate("+(lx0+j*cw+12)+",1526) rotate(-90)"});});
const b1=mk("line",{x1:1060,x2:1060,y1:1208,y2:1312,stroke:"#222"});
const b2=mk("line",{x1:1060,x2:1060,y1:1318,y2:1518,stroke:"#222"});
const s1=tx(0,0,"Senesc.",8.5,{"text-anchor":"middle",transform:"translate(1074,1260) rotate(-90)"});
const s2=tx(0,0,"SASP",8.5,{"text-anchor":"middle",transform:"translate(1074,1418) rotate(-90)"});
const cb=mk("rect",{x:998,y:1543,width:80,height:9,fill:"url(#vir)"});
const ct=tx(1000,1530,"Mean expression",8.5);
const ct2=tx(1000,1540,"in group (scaled)",8.5);
["0.0","0.5","1.0"].forEach((s,i)=>{const t=tx(1000+i*38,1563,s,8.5,{"text-anchor":"middle"});});}
</script>
</body></html>
